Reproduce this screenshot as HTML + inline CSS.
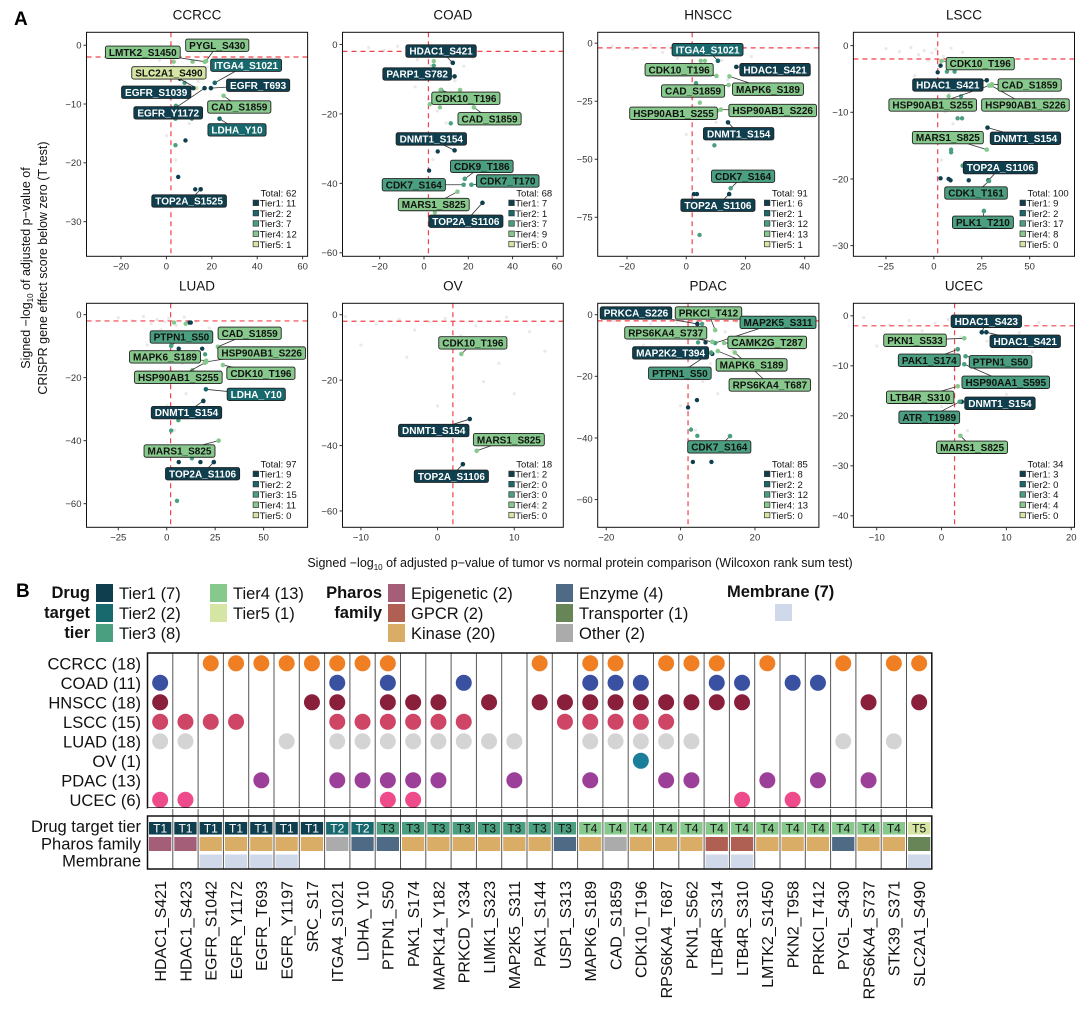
<!DOCTYPE html>
<html><head><meta charset="utf-8">
<style>
html,body{margin:0;padding:0;background:#fff;}
svg{display:block;font-family:"Liberation Sans",Arial,sans-serif;}
</style></head>
<body>
<svg id="fig" width="1092" height="1018" viewBox="0 0 1092 1018" xmlns="http://www.w3.org/2000/svg">
<rect width="1092" height="1018" fill="#fff"/>
<text x="14" y="25" font-size="19" font-weight="bold">A</text>
<text x="16" y="597" font-size="19" font-weight="bold">B</text>
<g font-size="12.5" fill="#111">
<text transform="translate(30,268) rotate(-90)" text-anchor="middle">Signed −log<tspan font-size="8" dy="3">10</tspan><tspan dy="-3"> of adjusted p−value of</tspan></text>
<text transform="translate(47,268) rotate(-90)" text-anchor="middle">CRISPR gene effect score below zero (T test)</text>
</g>
<text x="580" y="567" text-anchor="middle" font-size="12.5" fill="#111">Signed −log<tspan font-size="8" dy="3">10</tspan><tspan dy="-3"> of adjusted p−value of tumor vs normal protein comparison (Wilcoxon rank sum test)</tspan></text>
<g id="panels"></g>
<g id="legendB"></g>
<g id="matrix"></g>
</svg>
<script>
const NS="http://www.w3.org/2000/svg";
const TIER_FILL=["#0f3f4e","#17696d","#4a9f80","#87c98c","#d5e6a4"];
const TIER_TXT=["#fff","#fff","#111","#111","#111"];

// ===== Panel A data =====
const ccrcc_genes=["PYGL_S430","LMTK2_S1450","ITGA4_S1021","SLC2A1_S490","EGFR_T693","EGFR_S1039","EGFR_Y1172","CAD_S1859","LDHA_Y10","TOP2A_S1525"];
const ccrcc_x=[17.5,16.9,21.3,13.2,19.6,11.9,16.8,25.2,23.4,15.1];
const ccrcc_y=[-2.7,-2.8,-6.4,-7.3,-7.3,-7.3,-7.3,-8.6,-12.5,-24.5];
const ccrcc_tier=[4,4,2,5,1,1,1,4,2,1];
const ccrcc_lx=[22.4,-10.4,35.1,1.1,40.4,-4.5,0.8,32.1,31.1,10];
const ccrcc_ly=[0,-1.2,-3.4,-4.7,-6.8,-8.0,-11.5,-10.5,-14.4,-26.5];
const ccrcc_ox=[8.4,4.0,5.2,12.7,3.2,11.5,5.9,8.0,10.4,4.2,4.0,11.2];
const ccrcc_oy=[-16.2,-17.0,-22.4,-24.5,-2.8,-2.8,-5.7,-6.4,-7.3,-10.3,-12.5,-12.5];
const ccrcc_ot=[1,3,1,1,4,4,1,3,1,3,3,3];
const ccrcc_counts=[62,11,2,7,12,1];

const coad_genes=["HDAC1_S421","PARP1_S782","CDK10_T196","CAD_S1859","DNMT1_S154","CDK9_T186","CDK7_T170","CDK7_S164","MARS1_S825","TOP2A_S1106"];
const coad_x=[13.0,13.8,7.5,22.5,13.8,18.4,21.4,17.9,15.1,26.4];
const coad_y=[-5.3,-9.2,-13.1,-18.1,-30.5,-38.7,-40.4,-40.4,-42.4,-45.6];
const coad_tier=[1,1,4,4,1,3,3,3,4,1];
const coad_lx=[7.7,-3.1,18.9,29.6,3.3,26.1,37.8,-4.6,4.4,18.9];
const coad_ly=[-1.9,-8.5,-15.5,-21.4,-27.2,-35.1,-39.3,-40.4,-46.1,-50.9];
const coad_ox=[4.4,4.4,7.8,16.3,2.6,7.2,12.1,6.2,2.3,4.9];
const coad_oy=[-6.1,-4.8,-13.1,-13.1,-17.2,-18.1,-22.7,-30.8,-36.3,-48.4];
const coad_ot=[3,4,3,4,4,4,3,1,1,4];
const coad_counts=[68,7,1,7,9,0];

const hnscc_genes=["ITGA4_S1021","HDAC1_S421","CDK10_T196","MAPK6_S189","CAD_S1859","HSP90AB1_S226","HSP90AB1_S255","DNMT1_S154","CDK7_S164","TOP2A_S1106"];
const hnscc_x=[10.7,16.9,10.2,14.6,14.3,11.7,10.5,14.1,15.0,14.5];
const hnscc_y=[-7.6,-10.2,-14.1,-14.3,-18.0,-28.6,-29.0,-34.1,-62.5,-65];
const hnscc_tier=[2,1,4,4,4,4,4,1,3,1];
const hnscc_lx=[7.2,30.0,-2.4,27.6,2.3,29.2,-4.3,17.7,19.2,10.7];
const hnscc_ly=[-2.8,-11.4,-11.4,-19.8,-20.6,-29.0,-30.2,-39.0,-57.3,-69.8];
const hnscc_ox=[2.6,3.6,9.5,3.3,4.9,6.3,4.6,4.5,3.0];
const hnscc_oy=[-65,-65,-44,-17.2,-7.6,-7.6,-25.6,-82.6,-11.5];
const hnscc_ot=[1,1,3,3,4,4,4,3,4];
const hnscc_counts=[91,6,1,12,13,1];

const lscc_genes=["CDK10_T196","HDAC1_S421","CAD_S1859","HSP90AB1_S255","HSP90AB1_S226","DNMT1_S154","MARS1_S825","TOP2A_S1106","CDK1_T161","PLK1_T210"];
const lscc_x=[4.0,27.6,30.3,28.8,30.0,28.0,27.6,28.5,28.8,26.1];
const lscc_y=[-2.3,-5.2,-5.8,-6.0,-6.0,-12.3,-15.6,-20.2,-20.3,-24.8];
const lscc_tier=[4,1,4,4,4,1,4,1,3,3];
const lscc_lx=[24.2,7.3,50.0,-0.6,47.8,47.8,7.3,34.7,22.0,25.6];
const lscc_ly=[-2.7,-5.9,-5.9,-8.9,-8.9,-13.9,-13.8,-18.3,-22.1,-26.5];
const lscc_ox=[3.5,2.0,6.8,10.8,7.7,14.2,12.4,14.7,9.0,9.0,15.0,3.5,7.7,8.7,18.2];
const lscc_oy=[-3.0,-4.0,-3.9,-3.9,-7.6,-7.6,-10.9,-10.9,-15.6,-16.0,-18,-19.9,-20.0,-20.2,-20.2];
const lscc_ot=[1,1,3,3,4,3,3,3,3,3,3,1,1,1,1];
const lscc_counts=[100,9,2,17,8,0];

const luad_genes=["PTPN1_S50","CAD_S1859","MAPK6_S189","HSP90AB1_S226","CDK10_T196","HSP90AB1_S255","LDHA_Y10","DNMT1_S154","MARS1_S825","TOP2A_S1106"];
const luad_x=[2.3,26.4,20.4,20.4,29.0,19.6,20.2,18.9,26.8,24.3];
const luad_y=[-9.9,-10.2,-14.6,-15.0,-16.0,-15.3,-23.7,-27.4,-40,-46.8];
const luad_tier=[3,4,4,4,4,4,2,1,4,1];
const luad_lx=[7.6,42.8,-0.9,49.0,48.6,6.0,46.2,10.2,6.6,18.5];
const luad_ly=[-7.1,-5.9,-13.4,-12.2,-18.6,-19.9,-25.3,-31.1,-43.3,-50.5];
const luad_ox=[11.7,12.4,3.8,9.8,6.2,18.3,19.8,13.2,6.0,2.3,6.2,17.4,13.0,5.3];
const luad_oy=[-2.5,-2.5,-2.5,-2.9,-10.8,-10.8,-12.6,-17.6,-33.5,-36.8,-46.8,-46.8,-45.6,-59.1];
const luad_ot=[1,1,4,4,1,1,3,4,3,3,1,1,3,3];
const luad_counts=[97,9,2,15,11,0];

const ov_genes=["CDK10_T196","DNMT1_S154","MARS1_S825","TOP2A_S1106"];
const ov_x=[3.1,4.2,5.1,3.3];
const ov_y=[-12,-31.9,-41.6,-45.7];
const ov_tier=[4,1,4,1];
const ov_lx=[4.6,-0.5,9.3,1.8];
const ov_ly=[-8.6,-35.4,-38.2,-49.4];
const ov_ox=[];const ov_oy=[];const ov_ot=[];
const ov_counts=[18,2,0,0,2,0];

const pdac_genes=["PRKCA_S226","PRKCI_T412","MAP2K5_S311","RPS6KA4_S737","CAMK2G_T287","MAP2K2_T394","MAPK6_S189","PTPN1_S50","RPS6KA4_T687","CDK7_S164"];
const pdac_x=[4.5,9.3,9.3,8.5,11.7,8.5,10.0,8.2,14.6,13.3];
const pdac_y=[-3.0,-5.0,-9.2,-8.8,-9.2,-12.7,-11.8,-12.3,-12.3,-39.4];
const pdac_tier=[1,4,3,4,4,1,4,3,4,3];
const pdac_lx=[-12.0,7.5,26.2,-4.0,23.3,-2.7,19.1,-0.2,24.0,10.4];
const pdac_ly=[0.55,0.55,-2.5,-5.9,-9.0,-12.4,-16.3,-19.0,-22.8,-42.9];
const pdac_ox=[5.8,6.7,4.7,4.4,2.0,2.8,4.5,3.3,8.3];
const pdac_oy=[-3.0,-9.0,-9.0,-27.7,-30.1,-37.3,-39.3,-47.8,-47.8];
const pdac_ot=[3,1,3,1,1,3,3,1,1];
const pdac_counts=[85,8,2,12,13,0];

const ucec_genes=["HDAC1_S423","HDAC1_S421","PKN1_S533","PAK1_S174","PTPN1_S50","HSP90AA1_S595","LTB4R_S310","DNMT1_S154","ATR_T1989","MARS1_S825"];
const ucec_x=[6.2,6.9,3.5,2.5,3.7,3.5,2.5,3.1,2.8,2.9];
const ucec_y=[-3.3,-3.3,-4.5,-6.7,-8.1,-9.7,-14.1,-17.2,-17.2,-24];
const ucec_tier=[1,1,4,3,3,3,4,1,3,4];
const ucec_lx=[6.9,12.9,-4.1,-1.9,9.1,9.9,-3.3,9.0,-1.9,4.7];
const ucec_ly=[-1.1,-5.1,-4.9,-8.9,-9.2,-13.3,-16.3,-17.5,-20.3,-26.3];
const ucec_ox=[];const ucec_oy=[];const ucec_ot=[];
const ucec_counts=[34,3,0,4,4,0];

// faint background points (read roughly)
const bg_x=[-25,-18,-12,-8,-5,-3,-1,1,3,5,7,9,12,15,18,22,-10,-4,2,6,10,14,0,4,8];
const bg_y=[-0.5,-1,-0.3,-1.5,-0.8,-2.5,-1.2,-0.6,-3.5,-1.8,-4.2,-0.4,-2.8,-1.1,-3.6,-2.2,-5,-7,-9,-11,-13,-6,-15,-19,-8];

function el(tag,attrs,parent){const e=document.createElementNS(NS,tag);for(const k in attrs)e.setAttribute(k,attrs[k]);if(parent)parent.appendChild(e);return e;}

const panelsG=document.getElementById('panels');
function drawPanel(name,L,genes,gx,gy,gt,lx,ly,ox,oy,ot,counts){
  const g=el('g',{},panelsG);
  
  
  const sx=v=>L.x0+(v-L.xmin)/(L.xmax-L.xmin)*(L.x1-L.x0);
  const sy=v=>L.y0+(L.ymax-v)/(L.ymax-L.ymin)*(L.y1-L.y0);
  const t=el('text',{x:(L.x0+L.x1)/2,y:L.y0-13,'text-anchor':'middle','font-size':13.5,fill:'#111'},g);
  t.textContent=name;
  
  
  // clip
  const cid='clip'+name;
  const cp=el('clipPath',{id:cid},g);el('rect',{x:L.x0,y:L.y0,width:L.x1-L.x0,height:L.y1-L.y0},cp);
  const inner=el('g',{'clip-path':'url(#'+cid+')'},g);
  const bscale=(L.ymin/-35);
  for(let i=0;i<bg_x.length;i++){
    const c=el('circle',{cx:sx(bg_x[i]),cy:sy(bg_y[i]*bscale),r:1.6,fill:'#e9e9e9'},inner);
    
    
  }
  el('line',{x1:L.x0,x2:L.x1,y1:sy(-2),y2:sy(-2),stroke:'#f0424a','stroke-width':1.2,'stroke-dasharray':'5,4'},inner);
  el('line',{x1:sx(2),x2:sx(2),y1:L.y0,y2:L.y1,stroke:'#f0424a','stroke-width':1.2,'stroke-dasharray':'5,4'},inner);
  for(let i=0;i<ox.length;i++){
    const c=el('circle',{cx:sx(ox[i]),cy:sy(oy[i]),r:2.2,fill:TIER_FILL[ot[i]-1]},inner);
    
    
  }
  for(let i=0;i<genes.length;i++){
    el('line',{x1:sx(gx[i]),y1:sy(gy[i]),x2:sx(lx[i]),y2:sy(ly[i]),stroke:'#333','stroke-width':0.8},g);
  }
  for(let i=0;i<genes.length;i++){
    const c=el('circle',{cx:sx(gx[i]),cy:sy(gy[i]),r:2.3,fill:TIER_FILL[gt[i]-1]},g);
    
    
  }
  for(let i=0;i<genes.length;i++){
    const lg=el('g',{},g);
    
    
    const r=el('rect',{rx:2,ry:2,fill:TIER_FILL[gt[i]-1],stroke:'#222','stroke-width':0.9},lg);
    const tx=el('text',{x:sx(lx[i]),y:sy(ly[i])+3.6,'text-anchor':'middle','font-size':10,'font-weight':'bold',fill:TIER_TXT[gt[i]-1]},lg);
    tx.textContent=genes[i];
    const w=tx.getComputedTextLength()+7;
    r.setAttribute('x',sx(lx[i])-w/2);r.setAttribute('y',sy(ly[i])-6.2);
    r.setAttribute('width',w);r.setAttribute('height',12.4);
  }
  // legend
  const lgx=L.x1-54, lgy=L.y1-60;
  const lgG=el('g',{'font-size':9.5,fill:'#111'},g);
  
  
  const tt=el('text',{x:lgx+7,y:lgy},lgG);tt.textContent='Total: '+counts[0];
  for(let k=1;k<=5;k++){
    const yy=lgy+k*10.3;
    el('rect',{x:lgx-0.5,y:yy-6.5,width:5.5,height:5.5,fill:TIER_FILL[k-1],stroke:'#333','stroke-width':0.7},lgG);
    const e=el('text',{x:lgx+6,y:yy},lgG);e.textContent='Tier'+k+': '+counts[k];
  }
  // frame + axes
  el('rect',{x:L.x0,y:L.y0,width:L.x1-L.x0,height:L.y1-L.y0,fill:'none',stroke:'#111','stroke-width':1},g);
  L.xt.forEach(v=>{
    el('line',{x1:sx(v),x2:sx(v),y1:L.y1,y2:L.y1+3,stroke:'#333'},g);
    const e=el('text',{x:sx(v),y:L.y1+13,'text-anchor':'middle','font-size':9.5,fill:'#333'},g);
    e.textContent=v<0?'−'+(-v):v;
    
    
  });
  L.yt.forEach(v=>{
    el('line',{x1:L.x0-3,x2:L.x0,y1:sy(v),y2:sy(v),stroke:'#333'},g);
    const e=el('text',{x:L.x0-5,y:sy(v)+3.4,'text-anchor':'end','font-size':9.5,fill:'#333'},g);
    e.textContent=v<0?'−'+(-v):v;
    
    
  });
}
const R1={y0:32.3,y1:256.3}, R2={y0:303.3,y1:527.3};
const C=[[86.5,307.6],[342.5,563.3],[597.7,818.9],[853.4,1074.5]];
drawPanel('CCRCC',{x0:C[0][0],x1:C[0][1],y0:R1.y0,y1:R1.y1,xmin:-35.2,xmax:62.2,ymax:2.2,ymin:-35.9,xt:[-20,0,20,40,60],yt:[0,-10,-20,-30]},ccrcc_genes,ccrcc_x,ccrcc_y,ccrcc_tier,ccrcc_lx,ccrcc_ly,ccrcc_ox,ccrcc_oy,ccrcc_ot,ccrcc_counts);
drawPanel('COAD',{x0:C[1][0],x1:C[1][1],y0:R1.y0,y1:R1.y1,xmin:-36.8,xmax:62.9,ymax:3.5,ymin:-61,xt:[-20,0,20,40,60],yt:[0,-20,-40,-60]},coad_genes,coad_x,coad_y,coad_tier,coad_lx,coad_ly,coad_ox,coad_oy,coad_ot,coad_counts);
drawPanel('HNSCC',{x0:C[2][0],x1:C[2][1],y0:R1.y0,y1:R1.y1,xmin:-29.9,xmax:44.8,ymax:4.7,ymin:-91.8,xt:[-20,0,20,40],yt:[0,-25,-50,-75]},hnscc_genes,hnscc_x,hnscc_y,hnscc_tier,hnscc_lx,hnscc_ly,hnscc_ox,hnscc_oy,hnscc_ot,hnscc_counts);
drawPanel('LSCC',{x0:C[3][0],x1:C[3][1],y0:R1.y0,y1:R1.y1,xmin:-42,xmax:73.4,ymax:2.0,ymin:-31.6,xt:[-25,0,25,50],yt:[0,-10,-20,-30]},lscc_genes,lscc_x,lscc_y,lscc_tier,lscc_lx,lscc_ly,lscc_ox,lscc_oy,lscc_ot,lscc_counts);
drawPanel('LUAD',{x0:C[0][0],x1:C[0][1],y0:R2.y0,y1:R2.y1,xmin:-41.4,xmax:72.7,ymax:3.6,ymin:-67.5,xt:[-25,0,25,50],yt:[0,-20,-40,-60]},luad_genes,luad_x,luad_y,luad_tier,luad_lx,luad_ly,luad_ox,luad_oy,luad_ot,luad_counts);
drawPanel('OV',{x0:C[1][0],x1:C[1][1],y0:R2.y0,y1:R2.y1,xmin:-12.4,xmax:16.4,ymax:3.5,ymin:-65,xt:[-10,0,10],yt:[0,-20,-40,-60]},ov_genes,ov_x,ov_y,ov_tier,ov_lx,ov_ly,ov_ox,ov_oy,ov_ot,ov_counts);
drawPanel('PDAC',{x0:C[2][0],x1:C[2][1],y0:R2.y0,y1:R2.y1,xmin:-22.3,xmax:37.2,ymax:3.7,ymin:-69,xt:[-20,0,20],yt:[0,-20,-40,-60]},pdac_genes,pdac_x,pdac_y,pdac_tier,pdac_lx,pdac_ly,pdac_ox,pdac_oy,pdac_ot,pdac_counts);
drawPanel('UCEC',{x0:C[3][0],x1:C[3][1],y0:R2.y0,y1:R2.y1,xmin:-13.6,xmax:20.5,ymax:2.5,ymin:-42.3,xt:[-10,0,10,20],yt:[0,-10,-20,-30,-40]},ucec_genes,ucec_x,ucec_y,ucec_tier,ucec_lx,ucec_ly,ucec_ox,ucec_oy,ucec_ot,ucec_counts);

// ===== Panel B data =====
const sites=["HDAC1_S421","HDAC1_S423","EGFR_S1042","EGFR_Y1172","EGFR_T693","EGFR_Y1197","SRC_S17","ITGA4_S1021","LDHA_Y10","PTPN1_S50","PAK1_S174","MAPK14_Y182","PRKCD_Y334","LIMK1_S323","MAP2K5_S311","PAK1_S144","USP1_S313","MAPK6_S189","CAD_S1859","CDK10_T196","RPS6KA4_T687","PKN1_S562","LTB4R_S314","LTB4R_S310","LMTK2_S1450","PKN2_T958","PRKCI_T412","PYGL_S430","RPS6KA4_S737","STK39_S371","SLC2A1_S490"];
const siteTier=[1,1,1,1,1,1,1,2,2,3,3,3,3,3,3,3,3,4,4,4,4,4,4,4,4,4,4,4,4,4,5];
const sitePharos=["Epigenetic","Epigenetic","Kinase","Kinase","Kinase","Kinase","Kinase","Other","Enzyme","Enzyme","Kinase","Kinase","Kinase","Kinase","Kinase","Kinase","Enzyme","Kinase","Other","Kinase","Kinase","Kinase","GPCR","GPCR","Kinase","Kinase","Kinase","Enzyme","Kinase","Kinase","Transporter"];
const siteMembrane=[0,0,1,1,1,1,0,0,0,0,0,0,0,0,0,0,0,0,0,0,0,0,1,1,0,0,0,0,0,0,1];
const cancers=["CCRCC","COAD","HNSCC","LSCC","LUAD","OV","PDAC","UCEC"];
const cancerCols=[
 [2,3,4,5,6,7,8,9,15,17,18,20,21,22,24,27,29,30],
 [0,7,9,12,17,18,19,22,23,25,26],
 [0,6,7,9,10,11,13,15,16,17,18,19,20,21,22,23,28,30],
 [0,1,2,3,7,8,9,10,11,12,16,17,18,19,20],
 [0,1,5,7,8,9,10,11,12,13,14,17,18,19,20,21,27,29],
 [19],
 [4,7,8,9,10,11,14,17,20,21,24,26,28],
 [0,1,9,10,23,25]];
const cancerColor=["#ef7f22","#3a50a0","#8a1f3b","#cf4566","#d4d4d4","#1b7f9b","#9b3f98","#ee4b8a"];
const pharosCats=["Epigenetic","GPCR","Kinase","Enzyme","Transporter","Other"];
const pharosColor={"Epigenetic":"#a45e78","GPCR":"#b05f53","Kinase":"#d9ad66","Enzyme":"#4f6a85","Transporter":"#678556","Other":"#ababab"};
const MEM_COLOR="#cfd9ea";

// legend B
const LB=document.getElementById('legendB');
function ltext(x,y,s,opts){const e=el('text',Object.assign({x:x,y:y,'font-size':16.5,fill:'#111'},opts||{}),LB);e.textContent=s;return e;}
ltext(90,598,'Drug',{'text-anchor':'end','font-weight':'bold'});
ltext(90,618,'target',{'text-anchor':'end','font-weight':'bold'});
ltext(90,638,'tier',{'text-anchor':'end','font-weight':'bold'});
const tierCount=[1,2,3,4,5].map(k=>siteTier.filter(t=>t===k).length);
for(let k=0;k<5;k++){
  const cx=k<3?96:210, cy=(k<3?k:k-3)*20+584;
  const s=el('rect',{x:cx,y:cy,width:17,height:18,fill:TIER_FILL[k]},LB);
  
  
  ltext(cx+23,cy+15,'Tier'+(k+1)+' ('+tierCount[k]+')');
}
ltext(382,598,'Pharos',{'text-anchor':'end','font-weight':'bold'});
ltext(382,618,'family',{'text-anchor':'end','font-weight':'bold'});
pharosCats.forEach((p,k)=>{
  const cx=k<3?388:556, cy=(k%3)*20+584;
  const s=el('rect',{x:cx,y:cy,width:17,height:18,fill:pharosColor[p]},LB);
  
  
  ltext(cx+23,cy+15,p+' ('+sitePharos.filter(q=>q===p).length+')');
});
ltext(727,597,'Membrane ('+siteMembrane.reduce((a,b)=>a+b,0)+')',{'font-weight':'bold'});
const ms=el('rect',{x:775,y:604,width:17,height:17,fill:MEM_COLOR},LB);



// matrix
const M=document.getElementById('matrix');
const MX=147.5, CW=25.3, N=sites.length, MT=653, MB=808, BT=816, BB=869;
const rowY=i=>663.3+i*19.5;
const colX=j=>MX+CW*(j+0.5);
for(let j=1;j<N;j++) el('line',{x1:MX+CW*j,x2:MX+CW*j,y1:MT,y2:BB,stroke:'#555','stroke-width':1},M);
cancers.forEach((c,i)=>{
  const t=el('text',{x:141,y:rowY(i)+6,'text-anchor':'end','font-size':16.5,fill:'#111'},M);
  t.textContent=c+' ('+cancerCols[i].length+')';
  
  
  cancerCols[i].forEach(j=>{
    const d=el('circle',{cx:colX(j),cy:rowY(i),r:8,fill:cancerColor[i]},M);
    
    
  });
});
el('rect',{x:MX,y:MT,width:CW*N,height:MB-MT,fill:'none',stroke:'#111','stroke-width':1.5},M);
el('rect',{x:MX,y:MB,width:CW*N,height:BT-MB,fill:'#fff',stroke:'none'},M);
for(let j=1;j<N;j++) el('line',{x1:MX+CW*j,x2:MX+CW*j,y1:MB+1,y2:BT,stroke:'#555','stroke-width':1},M);
[['Drug target tier',832],['Pharos family',849.5],['Membrane',866.5]].forEach(a=>{
  const t=el('text',{x:141,y:a[1],'text-anchor':'end','font-size':16.5,fill:'#111'},M);t.textContent=a[0];
  
  
});
for(let j=0;j<N;j++){
  const x=MX+CW*j;
  const tr=el('rect',{x:x+1.5,y:822,width:CW-3,height:12.5,fill:TIER_FILL[siteTier[j]-1]},M);
  
  
  const tt=el('text',{x:x+CW/2,y:832.5,'text-anchor':'middle','font-size':12,fill:TIER_TXT[siteTier[j]-1]},M);
  tt.textContent='T'+siteTier[j];
  const pr=el('rect',{x:x+1.5,y:837,width:CW-3,height:14,fill:pharosColor[sitePharos[j]]},M);
  
  
  if(siteMembrane[j]){
    const mr=el('rect',{x:x+1.5,y:854.5,width:CW-3,height:13.5,fill:MEM_COLOR},M);
    
    
  }
  const lab=el('text',{transform:'translate('+(x+CW/2+5.8)+',881) rotate(-90)','text-anchor':'end','font-size':16,fill:'#111'},M);
  lab.textContent=sites[j];
  
  
}
el('rect',{x:MX,y:BT,width:CW*N,height:BB-BT,fill:'none',stroke:'#111','stroke-width':1.5},M);
</script>
</body></html>
